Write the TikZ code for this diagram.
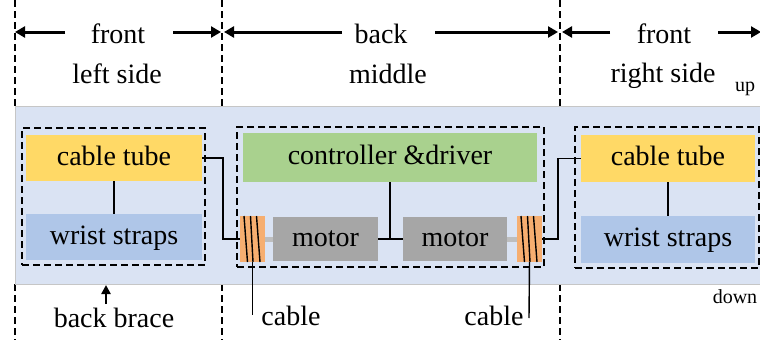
\documentclass[tikz,border=0pt]{standalone}
\usepackage{fontspec}
\setmainfont{Liberation Serif}
\newfontfamily\tnr{Liberation Serif}
\usetikzlibrary{arrows.meta}
\definecolor{bandc}{HTML}{DAE3F3}
\definecolor{yelc}{HTML}{FFD966}
\definecolor{bluec}{HTML}{AFC6E8}
\definecolor{greenc}{HTML}{A9D18E}
\definecolor{grayc}{HTML}{A6A6A6}
\definecolor{orc}{HTML}{F6AE70}
\definecolor{shaftc}{HTML}{BEBEBE}
\tikzset{
  blk/.style={inner sep=0pt, outer sep=0pt, text height=19.6pt, text depth=5.6pt, font=\tnr\fontsize{28}{32}\selectfont},
  ytube/.style={blk, fill=yelc},
  wstrap/.style={blk, fill=bluec},
  ctrlbox/.style={blk, fill=greenc},
  motbox/.style={blk, fill=grayc},
  spool/.style={inner sep=0pt, outer sep=0pt, fill=orc},
  grp/.style={draw, dash pattern=on 7pt off 4pt, line width=1.4pt, inner sep=0pt, outer sep=0pt},
  bandbox/.style={fill=bandc, draw=gray!45, line width=0.8pt, inner sep=0pt, outer sep=0pt},
  lbl/.style={inner sep=0pt, font=\tnr\fontsize{28}{32}\selectfont, anchor=base},
  smalllbl/.style={inner sep=0pt, font=\tnr\fontsize{20}{24}\selectfont, anchor=base},
  vdash/.style={dash pattern=on 7pt off 4pt, line width=1.3pt},
  harr/.style={line width=3pt, -{Triangle[length=10pt,width=11pt]}},
  uarr/.style={line width=2.8pt, -{Triangle[length=9pt,width=9pt]}},
  conn/.style={line width=1.4pt},
  stripe/.style={line width=1.4pt},
  shaft/.style={line width=5pt, draw=shaftc}
}
\begin{document}
\begin{tikzpicture}[x=1pt,y=-1pt]
\useasboundingbox (0,0) rectangle (760,340);

% section dividers
\foreach \n/\x in {v1/15, v2/222, v3/560}{
  \coordinate (\n t) at (\x,0);
  \coordinate (\n m) at (\x,106);
  \coordinate (\n b) at (\x,284);
  \coordinate (\n e) at (\x,340);
  \draw[vdash] (\n t) -- (\n m);
  \draw[vdash] (\n b) -- (\n e);
}

% header texts
\node[lbl] (front1) at (118,43) {front};
\node[lbl] (back) at (381,43) {back};
\node[lbl] (front2) at (664,43) {front};
\node[lbl] (lside) at (117,83) {left side};
\node[lbl] (mid) at (388,83) {middle};
\node[lbl] (rside) at (663,82) {right side};
\node[smalllbl] (up) at (745,91) {up};

% header arrows
\coordinate (a1s) at (65,32);  \coordinate (a1e) at (15,32);
\coordinate (a2s) at (173,32); \coordinate (a2e) at (221,32);
\coordinate (a3s) at (342,32); \coordinate (a3e) at (224,32);
\coordinate (a4s) at (435,32); \coordinate (a4e) at (558,32);
\coordinate (a5s) at (610,32); \coordinate (a5e) at (562,32);
\coordinate (a6s) at (718,32); \coordinate (a6e) at (761,32);
\foreach \i in {1,...,6}{\draw[harr] (a\i s) -- (a\i e);}

% band
\node[bandbox, minimum width=746pt, minimum height=178pt] (band) at (388,195) {};

% left group
\node[grp, minimum width=183pt, minimum height=137pt] (lgrp) at (113.5,196.5) {};
\node[ytube, minimum width=176pt, minimum height=46pt] (lct) at (114,158) {cable tube};
\node[wstrap, minimum width=176pt, minimum height=46pt] (lws) at (114,237) {wrist straps};

% middle group
\node[grp, minimum width=307pt, minimum height=140pt] (mgrp) at (390.5,197) {};
\node[ctrlbox, minimum width=294pt, minimum height=49pt] (ctrl) at (390,157.5) {controller \&driver};
\node[spool, minimum width=25pt, minimum height=46pt] (spl1) at (252.5,239) {};
\node[motbox, minimum width=105pt, minimum height=44pt] (mot1) at (325.5,239) {motor};
\node[motbox, minimum width=104pt, minimum height=44pt] (mot2) at (455,239) {motor};
\node[spool, minimum width=25pt, minimum height=46pt] (spl2) at (529.5,239) {};

% right group
\node[grp, minimum width=184pt, minimum height=141pt] (rgrp) at (667,197.5) {};
\node[ytube, minimum width=174pt, minimum height=47pt] (rct) at (668,158.5) {cable tube};
\node[wstrap, minimum width=174pt, minimum height=47pt] (rws) at (668,239.5) {wrist straps};

% spool stripes
\foreach \a/\b in {4/7.5, 10.5/13, 16.5/20}{
  \draw[stripe] ([xshift=\a pt]spl1.north west) -- ([xshift=\b pt]spl1.south west);
  \draw[stripe] ([xshift=\a pt]spl2.north west) -- ([xshift=\b pt]spl2.south west);
}

% connectors
\draw[conn] (lct.south) -- (lws.north);
\draw[conn] (rct.south) -- (rws.north);
\draw[conn] (lct.east) -- ++(21,0) |- (spl1.west);
\draw[conn] (spl2.east) -- ++(16,0) |- (rct.west);
\draw[shaft] (spl1.east) -- (mot1.west);
\draw[shaft] (mot2.east) -- (spl2.west);
\draw[conn] (mot1.east) -- (mot2.west);
\draw[conn] (ctrl.south) -- (ctrl.south |- mot1.east);

% bottom labels
\node[lbl] (cab1) at (291,325) {cable};
\node[lbl] (cab2) at (494,325) {cable};
\node[lbl] (bb) at (114,327) {back brace};
\node[smalllbl] (down) at (735,303) {down};
\coordinate (c1e) at (252.5,315);
\coordinate (c2e) at (529,318);
\draw[conn] (spl1.south) -- (c1e);
\draw[conn] (spl2.south) -- (c2e);
\coordinate (bbs) at (106,304);
\coordinate (bbt) at (106,285);
\draw[uarr] (bbs) -- (bbt);
\end{tikzpicture}
\end{document}
